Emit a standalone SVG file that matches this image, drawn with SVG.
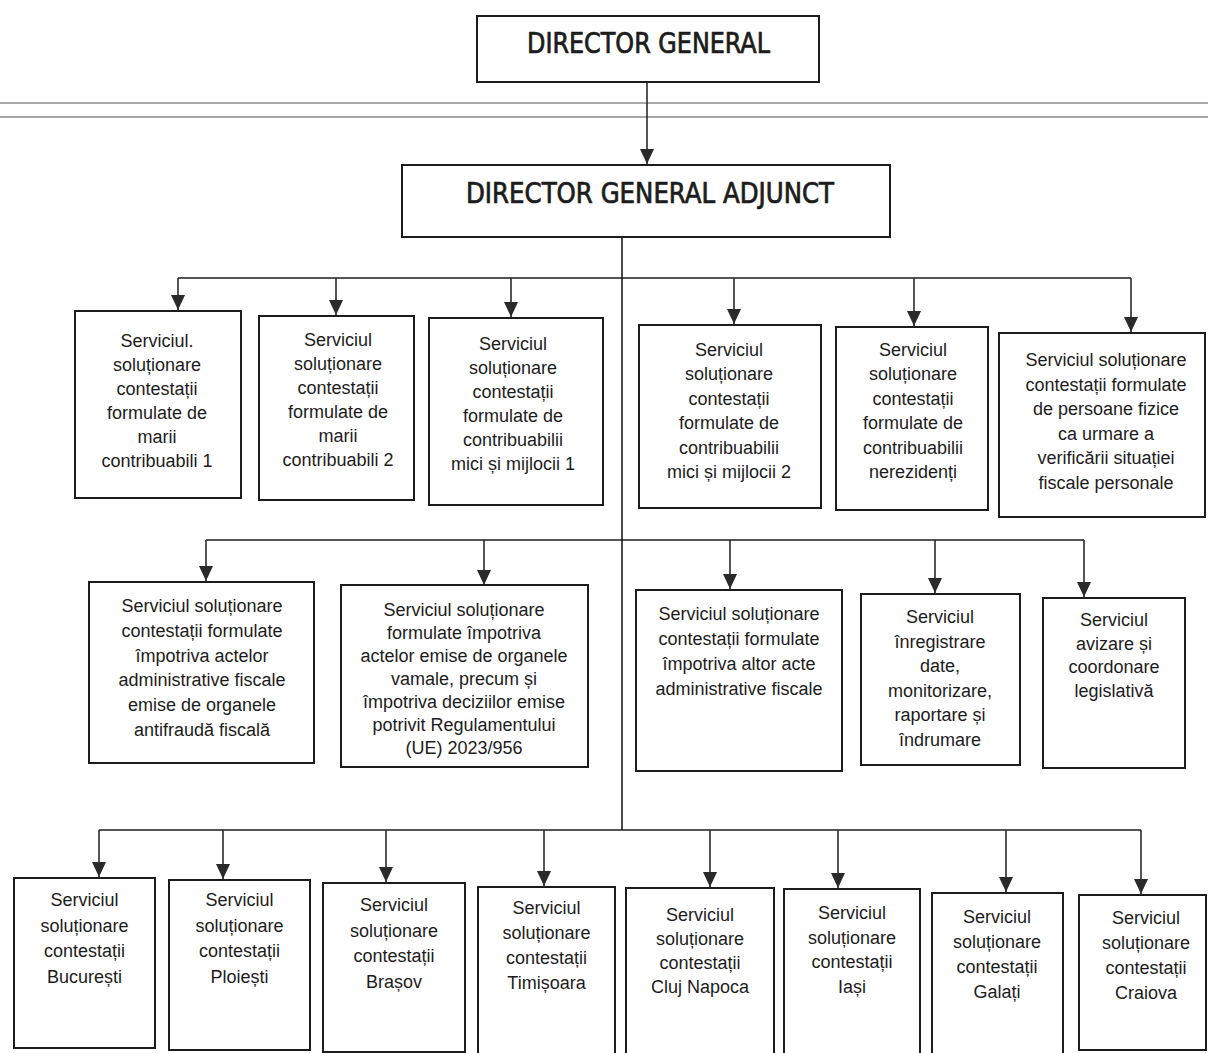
<svg xmlns="http://www.w3.org/2000/svg" width="1208" height="1053" viewBox="0 0 1208 1053">
<style>
.bg{fill:#fff}
.box{fill:#fff;stroke:#1c1c1c;stroke-width:2}
.t{font-family:"Liberation Sans",Arial,sans-serif;font-size:18px;fill:#1c1c1c;text-anchor:middle}
.title{font-family:"DejaVu Sans Condensed","DejaVu Sans",sans-serif;font-size:28px;fill:#1c1c1c;stroke:#1c1c1c;stroke-width:0.7;text-anchor:middle}
.ln{fill:none;stroke:#1c1c1c;stroke-width:1.6}
.arr{fill:none;stroke:#2a2a2a;stroke-width:1.6;marker-end:url(#ah)}
.rule{stroke:#8a8a8a;stroke-width:1.5}
</style>
<defs>
<marker id="ah" markerUnits="userSpaceOnUse" markerWidth="16" markerHeight="16" viewBox="0 0 16 16" refX="16" refY="8" orient="auto">
<path d="M0,1 L15,8 L0,15 z" fill="#2a2a2a"/>
</marker>
</defs>
<rect class="bg" x="0" y="0" width="1208" height="1053"/>
<g id="page-rules">
<line class="rule" x1="0" y1="103" x2="1208" y2="103"/>
<line class="rule" x1="0" y1="117" x2="1208" y2="117"/>
</g>
<g id="connectors">
<line class="arr" x1="647" y1="82" x2="647" y2="165"/>
<line class="ln" x1="622" y1="237" x2="622" y2="830"/>
<line class="ln" x1="178" y1="278" x2="1131" y2="278"/>
<line class="arr" x1="178" y1="278" x2="178" y2="311"/>
<line class="arr" x1="336" y1="278" x2="336" y2="316"/>
<line class="arr" x1="511" y1="278" x2="511" y2="318"/>
<line class="arr" x1="734" y1="278" x2="734" y2="325"/>
<line class="arr" x1="914" y1="278" x2="914" y2="327"/>
<line class="arr" x1="1131" y1="278" x2="1131" y2="333"/>
<line class="ln" x1="206" y1="540" x2="1084" y2="540"/>
<line class="arr" x1="206" y1="540" x2="206" y2="582"/>
<line class="arr" x1="484" y1="540" x2="484" y2="586"/>
<line class="arr" x1="730" y1="540" x2="730" y2="590"/>
<line class="arr" x1="935" y1="540" x2="935" y2="594"/>
<line class="arr" x1="1084" y1="540" x2="1084" y2="598"/>
<line class="ln" x1="99" y1="830" x2="1141" y2="830"/>
<line class="arr" x1="99" y1="830" x2="99" y2="878"/>
<line class="arr" x1="223" y1="830" x2="223" y2="880"/>
<line class="arr" x1="386" y1="830" x2="386" y2="883"/>
<line class="arr" x1="544" y1="830" x2="544" y2="887"/>
<line class="arr" x1="710" y1="830" x2="710" y2="888"/>
<line class="arr" x1="838" y1="830" x2="838" y2="889"/>
<line class="arr" x1="1006" y1="830" x2="1006" y2="893"/>
<line class="arr" x1="1141" y1="830" x2="1141" y2="895"/>
</g>
<g id="director-general">
<rect class="box" x="477" y="16" width="342" height="66"/>
<text class="title" x="648.5" y="53" textLength="243" lengthAdjust="spacingAndGlyphs">DIRECTOR GENERAL</text>
</g>
<g id="director-general-adjunct">
<rect class="box" x="402" y="165" width="488" height="72"/>
<text class="title" x="650" y="203" textLength="368" lengthAdjust="spacingAndGlyphs">DIRECTOR GENERAL ADJUNCT</text>
</g>
<g id="s-marii-1">
<rect class="box" x="75" y="311" width="166" height="187"/>
<text class="t" y="347"><tspan x="157" dy="0">Serviciul.</tspan><tspan x="157" dy="24">soluționare</tspan><tspan x="157" dy="24">contestații</tspan><tspan x="157" dy="24">formulate de</tspan><tspan x="157" dy="24">marii</tspan><tspan x="157" dy="24">contribuabili 1</tspan></text>
</g>
<g id="s-marii-2">
<rect class="box" x="259" y="316" width="155" height="184"/>
<text class="t" y="346"><tspan x="338" dy="0">Serviciul</tspan><tspan x="338" dy="24">soluționare</tspan><tspan x="338" dy="24">contestații</tspan><tspan x="338" dy="24">formulate de</tspan><tspan x="338" dy="24">marii</tspan><tspan x="338" dy="24">contribuabili 2</tspan></text>
</g>
<g id="s-mici-1">
<rect class="box" x="429" y="318" width="174" height="187"/>
<text class="t" y="350"><tspan x="513" dy="0">Serviciul</tspan><tspan x="513" dy="24">soluționare</tspan><tspan x="513" dy="24">contestații</tspan><tspan x="513" dy="24">formulate de</tspan><tspan x="513" dy="24">contribuabilii</tspan><tspan x="513" dy="24">mici și mijlocii 1</tspan></text>
</g>
<g id="s-mici-2">
<rect class="box" x="639" y="325" width="182" height="183"/>
<text class="t" y="356"><tspan x="729" dy="0">Serviciul</tspan><tspan x="729" dy="24.4">soluționare</tspan><tspan x="729" dy="24.4">contestații</tspan><tspan x="729" dy="24.4">formulate de</tspan><tspan x="729" dy="24.4">contribuabilii</tspan><tspan x="729" dy="24.4">mici și mijlocii 2</tspan></text>
</g>
<g id="s-nerezidenti">
<rect class="box" x="836" y="327" width="152" height="183"/>
<text class="t" y="356"><tspan x="913" dy="0">Serviciul</tspan><tspan x="913" dy="24.4">soluționare</tspan><tspan x="913" dy="24.4">contestații</tspan><tspan x="913" dy="24.4">formulate de</tspan><tspan x="913" dy="24.4">contribuabilii</tspan><tspan x="913" dy="24.4">nerezidenți</tspan></text>
</g>
<g id="s-persoane-fizice">
<rect class="box" x="999" y="333" width="206" height="184"/>
<text class="t" y="366"><tspan x="1106" dy="0">Serviciul soluționare</tspan><tspan x="1106" dy="24.5">contestații formulate</tspan><tspan x="1106" dy="24.5">de persoane fizice</tspan><tspan x="1106" dy="24.5">ca urmare a</tspan><tspan x="1106" dy="24.5">verificării situației</tspan><tspan x="1106" dy="24.5">fiscale personale</tspan></text>
</g>
<g id="s-antifrauda">
<rect class="box" x="89" y="582" width="225" height="181"/>
<text class="t" y="612"><tspan x="202" dy="0">Serviciul soluționare</tspan><tspan x="202" dy="24.8">contestații formulate</tspan><tspan x="202" dy="24.8">împotriva actelor</tspan><tspan x="202" dy="24.8">administrative fiscale</tspan><tspan x="202" dy="24.8">emise de organele</tspan><tspan x="202" dy="24.8">antifraudă fiscală</tspan></text>
</g>
<g id="s-vamale">
<rect class="box" x="341" y="585" width="247" height="182"/>
<text class="t" y="616"><tspan x="464" dy="0">Serviciul soluționare</tspan><tspan x="464" dy="23">formulate împotriva</tspan><tspan x="464" dy="23">actelor emise de organele</tspan><tspan x="464" dy="23">vamale, precum și</tspan><tspan x="464" dy="23">împotriva deciziilor emise</tspan><tspan x="464" dy="23">potrivit Regulamentului</tspan><tspan x="464" dy="23">(UE) 2023/956</tspan></text>
</g>
<g id="s-alte-acte">
<rect class="box" x="636" y="590" width="206" height="181"/>
<text class="t" y="620"><tspan x="739" dy="0">Serviciul soluționare</tspan><tspan x="739" dy="25">contestații formulate</tspan><tspan x="739" dy="25">împotriva altor acte</tspan><tspan x="739" dy="25">administrative fiscale</tspan></text>
</g>
<g id="s-inregistrare">
<rect class="box" x="861" y="594" width="159" height="171"/>
<text class="t" y="623"><tspan x="940" dy="0">Serviciul</tspan><tspan x="940" dy="24.6">înregistrare</tspan><tspan x="940" dy="24.6">date,</tspan><tspan x="940" dy="24.6">monitorizare,</tspan><tspan x="940" dy="24.6">raportare și</tspan><tspan x="940" dy="24.6">îndrumare</tspan></text>
</g>
<g id="s-avizare">
<rect class="box" x="1043" y="598" width="142" height="170"/>
<text class="t" y="626"><tspan x="1114" dy="0">Serviciul</tspan><tspan x="1114" dy="23.5">avizare și</tspan><tspan x="1114" dy="23.5">coordonare</tspan><tspan x="1114" dy="23.5">legislativă</tspan></text>
</g>
<g id="s-bucuresti">
<rect class="box" x="14" y="878" width="141" height="170"/>
<text class="t" y="906"><tspan x="84.5" dy="0">Serviciul</tspan><tspan x="84.5" dy="25.5">soluționare</tspan><tspan x="84.5" dy="25.5">contestații</tspan><tspan x="84.5" dy="25.5">București</tspan></text>
</g>
<g id="s-ploiesti">
<rect class="box" x="169" y="880" width="141" height="170"/>
<text class="t" y="906"><tspan x="239.5" dy="0">Serviciul</tspan><tspan x="239.5" dy="25.5">soluționare</tspan><tspan x="239.5" dy="25.5">contestații</tspan><tspan x="239.5" dy="25.5">Ploiești</tspan></text>
</g>
<g id="s-brasov">
<rect class="box" x="323" y="883" width="142" height="169"/>
<text class="t" y="911"><tspan x="394" dy="0">Serviciul</tspan><tspan x="394" dy="25.5">soluționare</tspan><tspan x="394" dy="25.5">contestații</tspan><tspan x="394" dy="25.5">Brașov</tspan></text>
</g>
<g id="s-timisoara">
<rect class="box" x="478" y="887" width="137" height="167"/>
<text class="t" y="914"><tspan x="546.5" dy="0">Serviciul</tspan><tspan x="546.5" dy="25">soluționare</tspan><tspan x="546.5" dy="25">contestații</tspan><tspan x="546.5" dy="25">Timișoara</tspan></text>
</g>
<g id="s-cluj">
<rect class="box" x="626" y="888" width="148" height="167"/>
<text class="t" y="921"><tspan x="700" dy="0">Serviciul</tspan><tspan x="700" dy="24">soluționare</tspan><tspan x="700" dy="24">contestații</tspan><tspan x="700" dy="24">Cluj Napoca</tspan></text>
</g>
<g id="s-iasi">
<rect class="box" x="784" y="889" width="136" height="166"/>
<text class="t" y="919"><tspan x="852" dy="0">Serviciul</tspan><tspan x="852" dy="24.7">soluționare</tspan><tspan x="852" dy="24.7">contestații</tspan><tspan x="852" dy="24.7">Iași</tspan></text>
</g>
<g id="s-galati">
<rect class="box" x="932" y="893" width="131" height="162"/>
<text class="t" y="923"><tspan x="997" dy="0">Serviciul</tspan><tspan x="997" dy="25">soluționare</tspan><tspan x="997" dy="25">contestații</tspan><tspan x="997" dy="25">Galați</tspan></text>
</g>
<g id="s-craiova">
<rect class="box" x="1079" y="895" width="127" height="155"/>
<text class="t" y="924"><tspan x="1146" dy="0">Serviciul</tspan><tspan x="1146" dy="25">soluționare</tspan><tspan x="1146" dy="25">contestații</tspan><tspan x="1146" dy="25">Craiova</tspan></text>
</g>
</svg>
